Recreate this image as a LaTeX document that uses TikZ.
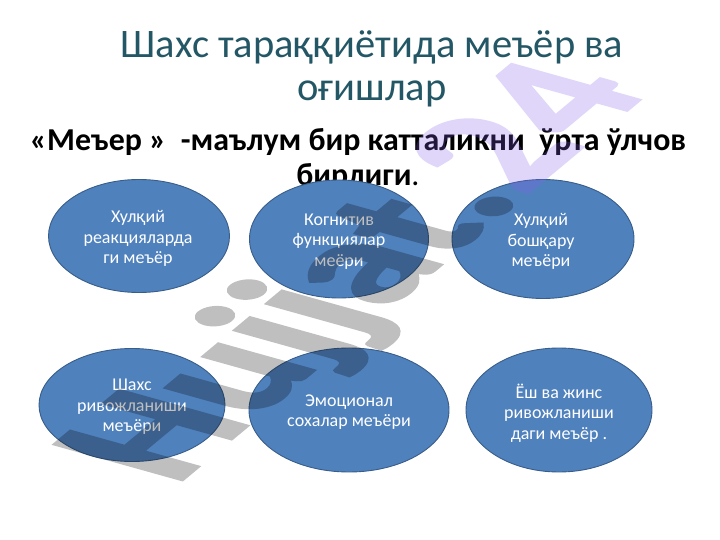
\documentclass[tikz,border=0pt]{standalone}
\usepackage{fontspec}
\setmainfont{Carlito}
\newfontfamily\wmfont[FakeBold=1.8]{Carlito Bold}
\usetikzlibrary{shapes.geometric}
\definecolor{titlec}{RGB}{36,87,102}
\definecolor{ovalf}{RGB}{79,129,189}
\definecolor{ovald}{RGB}{56,93,138}
\definecolor{lilac}{RGB}{135,95,235}
\tikzset{
  oval/.style={ellipse,draw=ovald,line width=0.9pt,fill=ovalf,inner sep=0pt},
  ovaltext/.style={align=center,text=white,font=\fontsize{18}{20.5}\selectfont},
}
\begin{document}
\begin{tikzpicture}[x=1pt,y=-1pt]
\useasboundingbox (0,0) rectangle (720,540);
\fill[white] (0,0) rectangle (720,540);
\node[text=titlec,align=center,font=\fontsize{40.5}{43}\selectfont] (title) at (372,68.5) {Шахс тараққиётида меъёр ва\\оғишлар};
\node[text=black,align=center,font=\fontsize{31.9}{35}\selectfont\bfseries] (sub) at (358,160) {«Меъер »\ \ -маълум бир катталикни\ \ ўрта ўлчов\\бирлиги{\mdseries .}};
\node[oval,minimum width=181,minimum height=113] (a) at (139,236) {};
\node[oval,minimum width=179,minimum height=118] (b) at (339,239) {};
\node[oval,minimum width=182,minimum height=119] (c) at (543,239) {};
\node[oval,minimum width=186,minimum height=113] (d) at (132,405) {};
\node[oval,minimum width=200,minimum height=124] (e) at (349,410) {};
\node[oval,minimum width=186,minimum height=124] (f) at (559,410) {};
\node[ovaltext] (ta) at (138,238.5) {Хулқий\\реакцияларда\\ги меъёр};
\node[ovaltext] (tb) at (339,241.5) {Когнитив\\функциялар\\меёри};
\node[ovaltext] (tc) at (541,241.5) {Хулқий\\бошқару\\меъёри};
\node[ovaltext] (td) at (132,407) {Шахс\\ривожланиши\\меъёри};
\node[ovaltext] (te) at (349,412) {Эмоционал\\сохалар меъёри};
\node[ovaltext] (tf) at (559,413) {Ёш ва жинс\\ривожланиши\\даги меъёр .};
% watermark: sheared text
\begin{scope}[transparency group,opacity=0.25,shift={(175,486)},cm={1.255,1.043,-1.97,0.55,(0,0)}]
\node[anchor=base west,inner sep=0pt,text=black,font=\wmfont\fontsize{100}{100}\selectfont,transform shape] (wm) at (0,0) {Hujjat.\textcolor{lilac}{24}};
\end{scope}
\end{tikzpicture}
\end{document}
